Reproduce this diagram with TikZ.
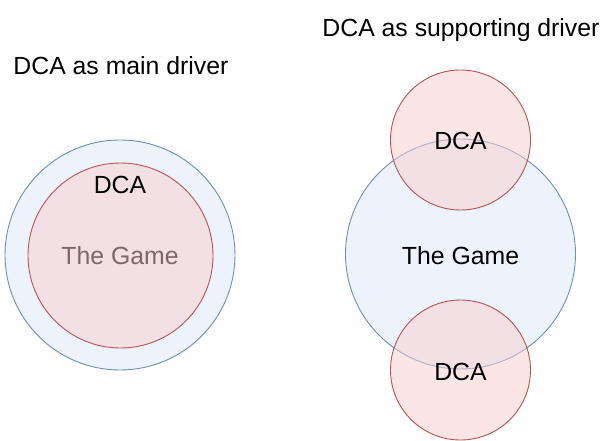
\documentclass[tikz,border=0pt]{standalone}
\usepackage{fontspec}
\setmainfont{Liberation Sans}
\usetikzlibrary{positioning}

\definecolor{gameFill}{HTML}{DAE8FC}
\definecolor{gameLine}{HTML}{6C8EBF}
\definecolor{dcaFill}{HTML}{F8CECC}
\definecolor{dcaLine}{HTML}{B85450}

\begin{document}
\begin{tikzpicture}[x=1pt, y=-1pt, line width=0.9pt,
  gamecircle/.style={circle, draw=gameLine, fill=gameFill, fill opacity=0.5, draw opacity=1, inner sep=0pt},
  dcacircle/.style={circle, draw=dcaLine, fill=dcaFill, fill opacity=0.5, draw opacity=1, inner sep=0pt},
  lbl/.style={inner sep=0pt, font=\fontsize{24.8}{30}\selectfont}]
  \useasboundingbox (0,0) rectangle (611,441);
  % titles
  \node[lbl, anchor=base west] (mainTitle) at (13,74.4) {DCA as main driver};
  \node[lbl, anchor=base west] (suppTitle) at (322,37) {DCA as supporting driver};
  % DCA as main driver
  \node[gamecircle, minimum size=230pt] (mainGame) at (120,255) {};
  \node[lbl, anchor=base] (mainGameText) at (120,265) {The Game};
  \node[dcacircle, minimum size=185pt] (mainDca) at (120.5,255.5) {};
  \node[lbl, anchor=base] (mainDcaText) at (120,194) {DCA};
  % DCA as supporting driver
  \node[gamecircle, minimum size=230pt] (suppGame) at (460.5,254) {};
  \node[dcacircle, minimum size=140pt] (suppDcaTop) at (460.5,140) {};
  \node[dcacircle, minimum size=140pt] (suppDcaBot) at (460.5,370) {};
  \node[lbl, anchor=base] (suppGameText) at (460.5,264.3) {The Game};
  \node[lbl, anchor=base] (suppDcaTopText) at (460.5,150) {DCA};
  \node[lbl, anchor=base] (suppDcaBotText) at (460.5,380) {DCA};
\end{tikzpicture}
\end{document}
